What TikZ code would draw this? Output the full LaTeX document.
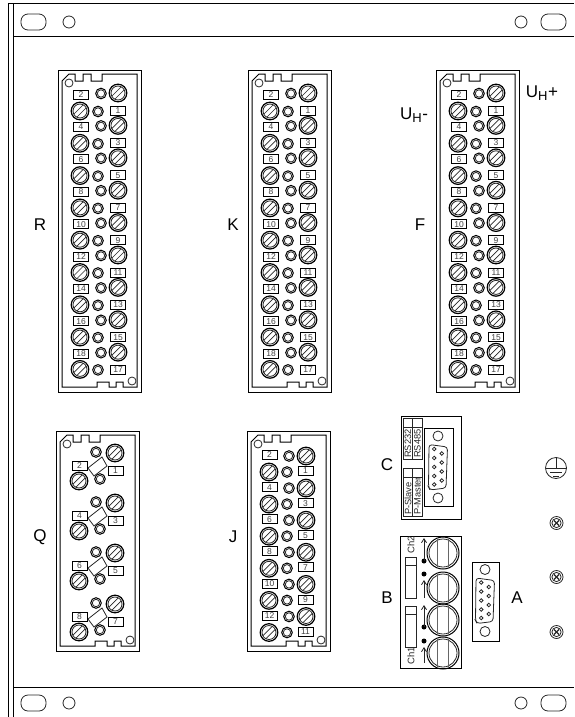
\documentclass[tikz,border=0pt]{standalone}
\usepackage{fontspec}
\setmainfont{Liberation Sans}
\usetikzlibrary{arrows.meta}
\tikzset{
    x=1pt, y=-1pt,
    wire/.style={draw=black, line width=1pt},
    hair/.style={draw=black!85, line width=0.8pt},
    letter/.style={font=\fontsize{17}{19}\selectfont, inner sep=0pt},
    numbox/.style={draw=black, line width=0.8pt, fill=white, minimum width=15pt, minimum height=9pt,
        inner sep=0pt, text=black!75, font=\fontsize{8.5}{8.5}\selectfont},
    striptext/.style={rotate=90, anchor=west, inner sep=0pt, text=black!85, font=\fontsize{9.3}{10}\selectfont},
    chtext/.style={rotate=90, anchor=west, inner sep=0pt, text=black!85, font=\fontsize{9.5}{10}\selectfont},
    pics/screw/.style={code={
        \draw[wire, line width=1.2pt] (0,0) circle (8.8);
        \draw[hair] (0,0) circle (7);
        \draw[hair, line width=0.7pt] (-6.2,3.2) -- (3.2,-6.2);
        \draw[hair, line width=0.7pt] (-3.2,6.2) -- (6.2,-3.2);
    }},
    pics/ring/.style={code={
        \draw[wire] (0,0) circle (5.3);
        \draw[hair] (0,0) circle (3.7);
    }},
    pics/modframe/.style={code={
        \draw[wire] (0,0) rectangle (83,#1);
        \draw[wire] (4,11) -- (11,4) -- (17,4) -- (17,11) -- (25,11) -- (25,4) -- (33,4) -- (33,11)
            -- (44,11) -- (44,4) -- (79,4) -- (79,#1-5) -- (65,#1-5) -- (65,#1-10) -- (58,#1-10)
            -- (58,#1-5) -- (51,#1-5) -- (51,#1-10) -- (39,#1-10) -- (39,#1-5) -- (4,#1-5) -- cycle;
        \draw[hair] (11,13) circle (4);
        \draw[hair] (74,#1-11) circle (4);
    }},
    pics/dsub/.style={code={
        \draw[hair] (0,-31) circle (5);
        \draw[hair] (0,31) circle (5);
        \draw[hair, rounded corners=3pt] (-9,-22.5) -- (9.5,-20) -- (8,21) -- (-8,23) -- (-9.5,20) -- cycle;
        \foreach \py in {-18,-9,0,9,17.5} {
            \draw[hair] (-3.8,\py) circle (1.8);
        }
        \foreach \py in {-13.5,-4.5,4.5,13.5} {
            \draw[hair] (3.8,\py) circle (1.8);
        }
    }},
    pics/crossscrew/.style={code={
        \draw[hair] (0,0) circle (6.5);
        \draw[hair, line width=1.1pt] (-2.6,-2.6) -- (2.6,2.6);
        \draw[hair, line width=1.1pt] (-2.6,2.6) -- (2.6,-2.6);
        \draw[hair] (0,0) circle (4.6);
    }},
    pics/bnc/.style={code={
        \draw[wire] (0,0) circle (16);
        \draw[hair] (0,0) circle (14);
        \draw[draw=black!60, line width=1pt] (-5.5,-14) -- (-5.5,14);
        \draw[draw=black!60, line width=1pt] (5.5,-14) -- (5.5,14);
    }}
}
\begin{document}
\begin{tikzpicture}
    \useasboundingbox (0,0) rectangle (574,717);
    % Draw the panel
    \draw[wire] (574,4) -- (8,4) -- (8,717);
    \draw[wire] (13,4) -- (13,717);
    \draw[wire] (13,37) -- (574,37);
    \draw[wire] (13,687) -- (574,687);
    % Draw the fixing holes
    \foreach \hy in {22,703} {
        \draw[hair, rounded corners=7pt] (21,\hy-8) rectangle (46,\hy+8);
        \draw[hair] (69,\hy) circle (6);
        \draw[hair] (521,\hy) circle (6);
        \draw[hair, rounded corners=7pt] (541,\hy-8) rectangle (566,\hy+8);
    }
    % Draw the long terminal blocks
    \foreach \mx/\mname in {0/R,190/K,378/F} {
        \begin{scope}[shift={(\mx,0)}]
            \pic at (58,70) {modframe=322};
            \foreach \n in {0,...,8} {
                \pic at (118,93+32.4*\n) {screw};
                \pic at (80,111+32.3*\n) {screw};
                \pic at (101,93.5+32.4*\n) {ring};
                \pic at (98,111.5+32.3*\n) {ring};
                \pgfmathtruncatemacro{\even}{2*\n+2}
                \pgfmathtruncatemacro{\odd}{2*\n+1}
                \node[numbox] (num-\mname-\even) at (81,94.5+32.4*\n) {\even};
                \node[numbox] (num-\mname-\odd) at (118,110.5+32.4*\n) {\odd};
            }
        \end{scope}
    }
    % Draw the block with the bridged pairs
    \pic at (56,431) {modframe=220};
    \foreach \n/\ny/\even/\odd in {0/0/2/1,1/50/4/3,2/100/6/5,3/151/8/7} {
        \pic at (115,453+\ny) {screw};
        \pic at (79,481+\ny) {screw};
        \pic at (96,452+\ny) {ring};
        \pic at (100,479+\ny) {ring};
        \draw[hair] (88,468+\ny) -- (102,457+\ny) -- (107,466+\ny) -- (94,476+\ny) -- cycle;
        \node[numbox] (num-Q-\even) at (79.5,465.5+\ny) {\even};
        \node[numbox] (num-Q-\odd) at (115.5,470.5+\ny) {\odd};
    }
    % Draw the short terminal block
    \pic at (247,431) {modframe=220};
    \foreach \n in {0,...,5} {
        \pic at (306,456+32.1*\n) {screw};
        \pic at (269,472+32.1*\n) {screw};
        \pic at (289,456+32.1*\n) {ring};
        \pic at (287,472+32.1*\n) {ring};
        \pgfmathtruncatemacro{\even}{2*\n+2}
        \pgfmathtruncatemacro{\odd}{2*\n+1}
        \node[numbox] (num-J-\even) at (269.5,455+32.1*\n) {\even};
        \node[numbox] (num-J-\odd) at (305.5,471+32.1*\n) {\odd};
    }
    % Draw the serial port block
    \draw[wire] (401,416) rectangle (461,519);
    \draw[wire] (424,428) rectangle (453,506);
    \draw[hair] (403,418) rectangle (422,459);
    \draw[hair] (403,427) -- (422,427);
    \draw[hair] (412.5,418) -- (412.5,459);
    \draw[hair] (403,468) rectangle (422,516);
    \draw[hair] (403,477) -- (422,477);
    \draw[hair] (412.5,468) -- (412.5,516);
    \node[striptext] (rs232) at (408,458) {RS232};
    \node[striptext] (rs485) at (417.5,458) {RS485};
    \node[striptext] (pslave) at (408,515) {P-Slave};
    \node[striptext] (pmaster) at (417.5,515) {P-Master};
    \pic at (438,467) {dsub};
    % Draw the channel block
    \draw[wire] (400,536) rectangle (461,668);
    \foreach \by in {553,588,620,653} {
        \pic at (443,\by) {bnc};
    }
    \foreach \sy in {557,606} {
        \draw[hair] (405,\sy) rectangle (416,\sy+41);
        \draw[hair] (405,\sy+8) -- (416,\sy+8);
    }
    \node[chtext] (ch2) at (411,554) {Ch2};
    \node[chtext] (ch1) at (411,665) {Ch1};
    \foreach \dy/\ty in {561/538,627/605} {
        \fill (424,\dy) circle (2.5);
        \draw[hair, -{Straight Barb[length=4pt,width=5pt]}] (424,\dy) -- (424,\ty);
    }
    \foreach \dy/\ay/\ty in {574/598/580,641/663/647} {
        \fill (424,\dy) circle (2.5);
        \draw[hair, -{Straight Barb[length=4pt,width=5pt]}] (424,\ay) -- (424,\ty);
    }
    % Draw the port A
    \draw[wire] (472,562) rectangle (499,641);
    \pic at (485,600.5) {dsub};
    % Draw the earth symbol and the screws
    \draw[hair] (556,468) circle (10.5);
    \draw[hair] (556,458) -- (556,468);
    \draw[hair] (546,468) -- (566,468);
    \draw[hair] (550,472) -- (562,472);
    \draw[hair] (553,476) -- (559,476);
    \foreach \cy in {523,577,632} {
        \pic at (556.5,\cy) {crossscrew};
    }
    % Label the blocks
    \node[letter] (lab-R) at (40,225) {R};
    \node[letter] (lab-K) at (233,225) {K};
    \node[letter] (lab-F) at (420,225) {F};
    \node[letter] (lab-Q) at (40,537) {Q};
    \node[letter] (lab-J) at (233,537) {J};
    \node[letter] (lab-C) at (387,465) {C};
    \node[letter] (lab-B) at (387,598) {B};
    \node[letter] (lab-A) at (517,598) {A};
    \node[letter] (lab-um) at (414,115) {U\textsubscript{\fontsize{13}{14}\selectfont H}-};
    \node[letter] (lab-up) at (542,93) {U\textsubscript{\fontsize{13}{14}\selectfont H}+};
\end{tikzpicture}
\end{document}
